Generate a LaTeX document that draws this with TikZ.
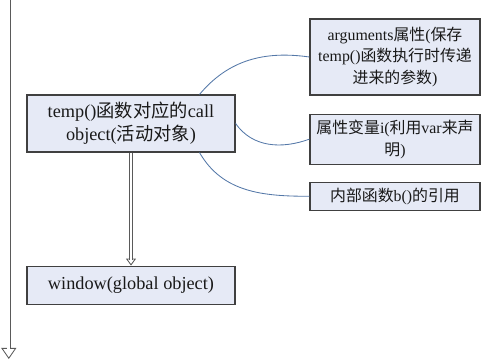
\documentclass[tikz,border=0pt]{standalone}
\usepackage{fontspec}
\setmainfont{Liberation Serif}
\newfontfamily\cjk{Noto Sans CJK SC}
\usetikzlibrary{arrows.meta,positioning,calc}
\definecolor{boxfill}{RGB}{230,234,246}
\definecolor{boxline}{RGB}{64,64,64}
\definecolor{linkblue}{RGB}{84,120,168}
\definecolor{shaftgray}{RGB}{90,90,90}

\begin{document}
\begin{tikzpicture}[
	x=0.025cm, y=0.025cm,
	box/.style={draw=boxline, fill=boxfill, line width=0.8pt, align=center, inner sep=0pt, text=black!90, font=\fontsize{13}{16.5}\selectfont},
	side/.style={box, minimum width=4.25cm, font=\fontsize{11.3}{15.4}\selectfont},
	link/.style={draw=linkblue, line width=0.6pt},
	shaft/.style={draw=shaftgray, line width=0.6pt, double=white, double distance=2pt},
	bighead/.style={draw=shaftgray, line width=0.6pt, -{Triangle[fill=white, length=0.275cm, width=0.375cm]}},
	smallhead/.style={draw=shaftgray, line width=0.6pt, -{Triangle[fill=white, length=0.175cm, width=0.25cm]}}
]
\useasboundingbox (0,0) rectangle (481,360);

\node[box, minimum width=5.2cm, minimum height=1.425cm] (main) at (131,236.5) {temp(){\cjk 函数对应的}call\\object({\cjk 活动对象})};
\node[box, minimum width=5.2cm, minimum height=0.95cm, below=2.825cm of main] (window) {window(global object)};

\node[side, minimum height=1.9cm] (args) at (395,303) {arguments{\cjk 属性}({\cjk 保存}\\temp(){\cjk 函数执行时传递}\\{\cjk 进来的参数})};
\node[side, minimum height=1.25cm, below=0.45cm of args] (vars) {{\cjk 属性变量}i({\cjk 利用}var{\cjk 来声}\\{\cjk 明})};
\node[side, minimum height=0.7cm, below=0.425cm of vars] (inner) {{\cjk 内部函数}b(){\cjk 的引用}};

\draw[link] (main.23) to[out=50, in=172] (args.west);
\draw[link] (main.east) to[out=-55, in=200] (vars.west);
\draw[link] (main.-23) to[out=-60, in=180] (inner.west);

\coordinate (mid) at ($(window.north)+(0,7)$);
\draw[smallhead] (mid) -- (window.north);
\draw[shaft] (main.south) -- ($(mid)+(0,-1)$);

\coordinate (tl) at (8.8,362);
\coordinate (bl) at (8.8,1);
\draw[bighead] ($(bl)+(0,11)$) -- (bl);
\draw[shaft] (tl) -- ($(bl)+(0,10)$);
\end{tikzpicture}
\end{document}
